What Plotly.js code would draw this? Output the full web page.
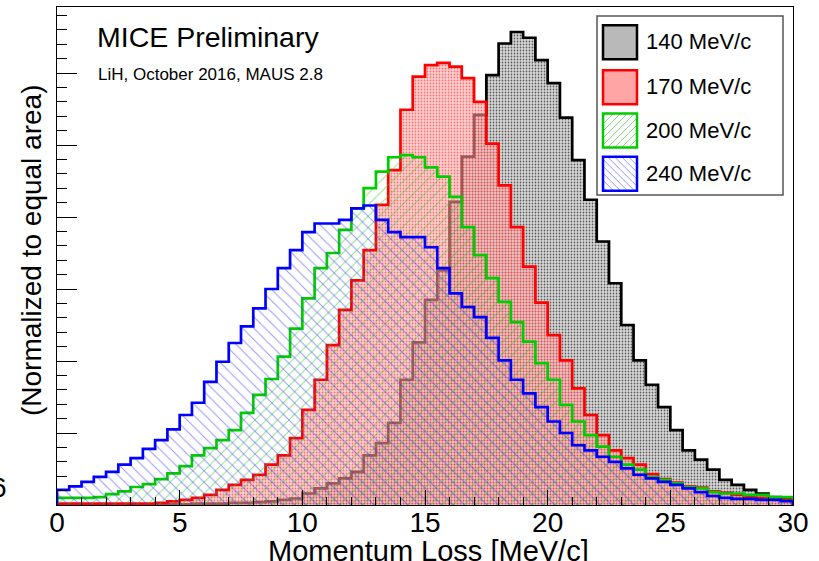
<!DOCTYPE html>
<html>
<head>
<meta charset="utf-8">
<script src="https://cdn.plot.ly/plotly-3.0.1.min.js"></script>
<style>
  html, body { margin: 0; padding: 0; background: #fff; }
  #chart { width: 819px; height: 561px; }
</style>
</head>
<body>
<div id="chart"></div>
<script>
// ---- Data ----
// Histogram bins: 0.5 MeV/c wide, from 0 to 30 MeV/c (60 bins)
const binStart = 0;
const binWidth = 0.5;
const seriesNames = ["140 MeV/c", "170 MeV/c", "200 MeV/c", "240 MeV/c"];
const xTickVals = [0, 5, 10, 15, 20, 25, 30];
const xTickText = ["0", "5", "10", "15", "20", "25", "30"];

const h140 = [0.01,0.01,0.01,0.01,0.01,0.01,0.01,0.01,0.01,0.01,
              0.01,0.02,0.02,0.02,0.03,0.03,0.04,0.05,0.07,0.09,
              0.16,0.23,0.30,0.37,0.46,0.69,0.86,1.14,1.74,2.26,
              2.85,3.26,4.21,4.84,5.42,5.97,6.41,6.57,6.49,6.18,
              5.86,5.38,4.79,4.24,3.66,3.08,2.50,2.01,1.67,1.36,
              1.04,0.76,0.63,0.49,0.35,0.28,0.21,0.16,0.11,0.09];
const h170 = [0.02,0.02,0.02,0.02,0.02,0.02,0.02,0.02,0.03,0.05,
              0.07,0.10,0.14,0.21,0.28,0.35,0.42,0.56,0.69,0.93,
              1.32,1.74,2.22,2.71,3.12,3.54,4.17,4.65,5.49,5.95,
              6.11,6.14,6.09,5.93,5.60,5.02,4.44,3.86,3.31,2.81,
              2.36,2.01,1.62,1.25,0.97,0.76,0.65,0.56,0.43,0.36,
              0.31,0.26,0.24,0.19,0.17,0.14,0.11,0.10,0.08,0.07];
const h200 = [0.10,0.10,0.10,0.11,0.15,0.19,0.25,0.29,0.36,0.44,
              0.54,0.69,0.79,0.90,1.04,1.28,1.53,1.75,2.06,2.45,
              2.87,3.29,3.50,3.82,4.12,4.40,4.63,4.83,4.86,4.83,
              4.69,4.56,4.28,3.86,3.47,3.15,2.82,2.54,2.27,1.97,
              1.74,1.39,1.16,0.97,0.81,0.67,0.56,0.49,0.39,0.35,
              0.30,0.25,0.23,0.18,0.16,0.16,0.14,0.14,0.11,0.11];
const h240 = [0.21,0.26,0.32,0.39,0.46,0.56,0.65,0.78,0.90,1.05,
              1.25,1.42,1.71,1.99,2.25,2.48,2.73,3.00,3.29,3.54,
              3.79,3.91,3.91,3.96,4.12,4.16,3.96,3.79,3.72,3.72,
              3.58,3.29,2.94,2.75,2.61,2.32,2.01,1.74,1.55,1.36,
              1.16,1.00,0.83,0.76,0.67,0.60,0.51,0.42,0.37,0.32,
              0.28,0.23,0.18,0.125,0.10,0.085,0.085,0.07,0.07,0.055];

// ---- Geometry helpers (layout only) ----
const W = 819, H = 561;
const M = { l: 57, r: 26, t: 7, b: 56 };
const PW = W - M.l - M.r, PH = H - M.t - M.b;
const px = x => (x - M.l) / PW;            // pixel x -> paper x
const py = y => (H - M.b - y) / PH;        // pixel y -> paper y
const FONT = "Liberation Sans, Arial, Helvetica, sans-serif";

function stepTrace(vals, name, color, pattern) {
  const xs = [binStart], ys = [0];
  for (let i = 0; i < vals.length; i++) {
    xs.push(binStart + i * binWidth);
    ys.push(vals[i]);
  }
  xs.push(binStart + vals.length * binWidth); ys.push(vals[vals.length - 1]);
  xs.push(binStart + vals.length * binWidth); ys.push(0);
  return {
    type: "scatter", mode: "lines", name: name,
    x: xs, y: ys,
    line: { shape: "hv", color: color, width: 2.7 },
    fill: "tozeroy",
    fillcolor: pattern.bgcolor,
    fillpattern: pattern,
    showlegend: false, hoverinfo: "skip"
  };
}

const styles = [
  { color: "#000000", pattern: { shape: ".", bgcolor: "rgba(210,210,210,0.85)", fgcolor: "rgba(40,40,40,0.7)", size: 3, solidity: 0.28 } },
  { color: "#ff0000", pattern: { shape: ".", bgcolor: "rgba(255,175,175,0.55)", fgcolor: "rgba(255,40,40,0.6)", size: 3, solidity: 0.28 } },
  { color: "#00cc00", pattern: { shape: "/", bgcolor: "rgba(255,255,255,0)", fgcolor: "rgba(40,200,40,0.55)", size: 8, solidity: 0.12 } },
  { color: "#0000ff", pattern: { shape: "\\", bgcolor: "rgba(255,255,255,0)", fgcolor: "rgba(60,60,255,0.55)", size: 8, solidity: 0.12 } }
];
const series = [h140, h170, h200, h240];
const traces = series.map((v, i) => stepTrace(v, seriesNames[i], styles[i].color, styles[i].pattern));

// ---- Custom ROOT-style legend ----
const legRows = [41.7, 86.7, 130, 173.3];
const swatchFill = ["rgba(185,185,185,1)", "rgba(255,165,165,1)", "rgba(255,255,255,1)", "rgba(255,255,255,1)"];
const hatch = [null, null, { dir: "/", color: "rgba(60,200,60,0.6)" }, { dir: "\\", color: "rgba(80,80,255,0.6)" }];
const shapes = [{
  type: "rect", xref: "paper", yref: "paper",
  x0: px(597), x1: px(783), y0: py(195), y1: py(16),
  fillcolor: "#ffffff", line: { color: "#555555", width: 1.5 }, layer: "above"
}];
const annotations = [];
legRows.forEach((yc, i) => {
  const a = 603, b = yc - 16.5, s = 34;
  shapes.push({
    type: "rect", xref: "paper", yref: "paper",
    x0: px(a), x1: px(a + s), y0: py(b + s), y1: py(b),
    fillcolor: swatchFill[i], line: { width: 0 }, layer: "above"
  });
  if (hatch[i]) {
    const sp = 7;
    for (let c = -s + sp / 2; c < s; c += sp) {
      let u0, u1, v0, v1;
      if (hatch[i].dir === "/") {
        const cc = c + s; // u + v = cc
        u0 = Math.max(0, cc - s); u1 = Math.min(s, cc);
        v0 = cc - u0; v1 = cc - u1;
      } else {
        u0 = Math.max(0, c); u1 = Math.min(s, s + c);
        v0 = u0 - c; v1 = u1 - c;
      }
      shapes.push({ type: "line", xref: "paper", yref: "paper",
        x0: px(a + u0), y0: py(b + v0), x1: px(a + u1), y1: py(b + v1),
        line: { color: hatch[i].color, width: 1 }, layer: "above" });
    }
  }
  shapes.push({
    type: "rect", xref: "paper", yref: "paper",
    x0: px(a), x1: px(a + s), y0: py(b + s), y1: py(b),
    fillcolor: "rgba(0,0,0,0)", line: { color: styles[i].color, width: 2.5 }, layer: "above"
  });
  annotations.push({
    xref: "paper", yref: "paper", x: px(644), y: py(yc), xanchor: "left", yanchor: "middle",
    text: seriesNames[i], showarrow: false, font: { family: FONT, size: 22, color: "#000" }
  });
});
annotations.push(
  { xref: "paper", yref: "paper", x: px(95), y: py(37), xanchor: "left", yanchor: "middle",
    text: "MICE Preliminary", showarrow: false, font: { family: FONT, size: 28.5, color: "#000" } },
  { xref: "paper", yref: "paper", x: px(96), y: py(74), xanchor: "left", yanchor: "middle",
    text: "LiH, October 2016, MAUS 2.8", showarrow: false, font: { family: FONT, size: 17, color: "#000" } },
  { xref: "paper", yref: "paper", x: px(428), y: py(533), xanchor: "center", yanchor: "top",
    text: "Momentum Loss [MeV/c]", showarrow: false, font: { family: FONT, size: 29, color: "#000" } },
  { xref: "paper", yref: "paper", x: px(32), y: py(250), xanchor: "center", yanchor: "middle",
    textangle: -90, text: "(Normalized to equal area)", showarrow: false, font: { family: FONT, size: 28, color: "#000" } },
  { xref: "paper", yref: "paper", x: px(9), y: py(487), xanchor: "right", yanchor: "middle",
    text: "6", showarrow: false, font: { family: FONT, size: 28, color: "#000" } }
);

const layout = {
  width: W, height: H,
  margin: M,
  paper_bgcolor: "#ffffff", plot_bgcolor: "#ffffff",
  showlegend: false,
  font: { family: FONT, color: "#000" },
  xaxis: {
    range: [0, 30], showgrid: false, zeroline: false,
    tickmode: "array", tickvals: xTickVals, ticktext: xTickText,
    ticks: "inside", ticklen: 15, tickwidth: 1, tickcolor: "#000",
    ticklabelstandoff: -8,
    minor: { dtick: 1, ticks: "inside", ticklen: 8, tickcolor: "#000", tickwidth: 1 },
    showline: true, mirror: true, linecolor: "#000", linewidth: 1,
    tickfont: { family: FONT, size: 28, color: "#000" }
  },
  yaxis: {
    range: [0, 6.917], showgrid: false, zeroline: false,
    dtick: 1, tick0: 0,
    ticks: "inside", ticklen: 20, tickwidth: 1, tickcolor: "#000",
    minor: { dtick: 0.2, ticks: "inside", ticklen: 10, tickcolor: "#000", tickwidth: 1 },
    showticklabels: false,
    showline: true, mirror: true, linecolor: "#000", linewidth: 1
  },
  shapes: shapes,
  annotations: annotations
};

Plotly.newPlot("chart", traces, layout, { staticPlot: true, displayModeBar: false });
</script>
</body>
</html>
